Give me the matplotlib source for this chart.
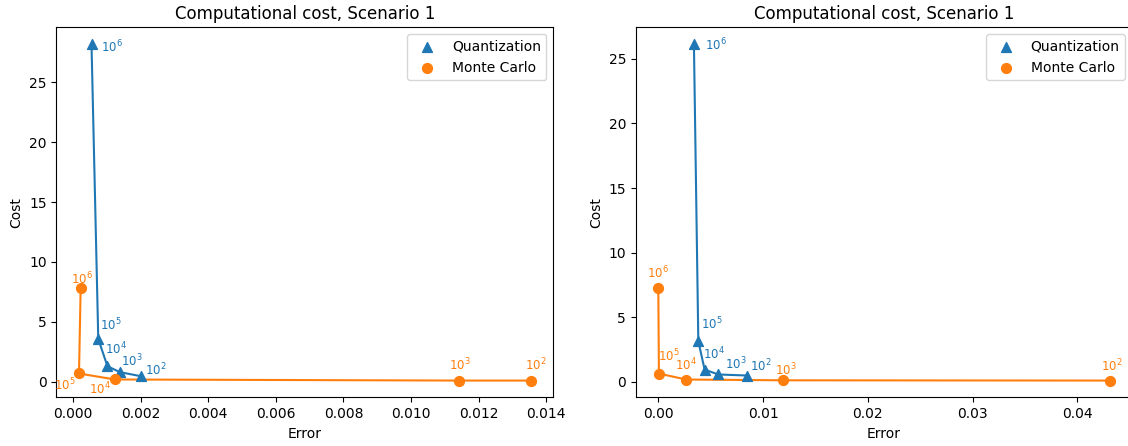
import matplotlib
matplotlib.use("Agg")
import matplotlib.pyplot as plt

exps = [6, 5, 4, 3, 2]

# Scenario panel 1 (left)
q_err_1 = [0.00055, 0.00075, 0.00102, 0.00139, 0.00200]
q_cost_1 = [28.2, 3.58, 1.30, 0.80, 0.47]
mc_err_1 = [0.00023, 0.00018, 0.00124, 0.01143, 0.01354]
mc_cost_1 = [7.87, 0.69, 0.19, 0.10, 0.10]

# Scenario panel 2 (right)
q_err_2 = [0.00340, 0.00382, 0.00442, 0.00573, 0.00849]
q_cost_2 = [26.15, 3.15, 0.95, 0.57, 0.49]
mc_err_2 = [0.00000, 0.00006, 0.00267, 0.01189, 0.04306]
mc_cost_2 = [7.29, 0.64, 0.18, 0.12, 0.10]

# label offsets (points)
q_off_1 = [(14.4, -2), (8.9, 10.3), (6, 12.5), (8.4, 7.9), (11, 4.1)]
mc_off_1 = [(1.2, 6.0), (-10, -8.4), (-10.8, -6.5), (0, 11.5), (3.6, 11.5)]
q_off_2 = [(15.6, -0.7), (9.6, 12), (6.7, 11.3), (12.5, 7.2), (9.6, 6.7)]
mc_off_2 = [(0, 10.3), (7.2, 13), (0, 10.8), (2, 7.7), (1.7, 10.4)]

blue = "#1f77b4"
orange = "#ff7f0e"

fig = plt.figure(figsize=(11.28, 4.46), dpi=100)
ax1 = fig.add_axes([0.0500, 0.109, 0.4406, 0.830])
ax2 = fig.add_axes([0.5636, 0.109, 0.4400, 0.830])

def panel(ax, qe, qc, me, mc, qo, mo):
    ax.plot(qe, qc, color=blue, zorder=2)
    ax.scatter(qe, qc, marker="^", s=50, color=blue, label="Quantization", zorder=3)
    ax.plot(me, mc, color=orange, zorder=2)
    ax.scatter(me, mc, marker="o", s=50, color=orange, label="Monte Carlo", zorder=3)
    for e, x, y, o in zip(exps, qe, qc, qo):
        ax.annotate(f"$10^{{{e}}}$", (x, y), xytext=o, textcoords="offset points",
                    ha="center", va="center", color=blue, fontsize=8.5)
    for e, x, y, o in zip(exps, me, mc, mo):
        ax.annotate(f"$10^{{{e}}}$", (x, y), xytext=o, textcoords="offset points",
                    ha="center", va="center", color=orange, fontsize=8.5)
    ax.set_title("Computational cost, Scenario 1", fontsize=12)
    ax.set_xlabel("Error")
    ax.set_ylabel("Cost")
    ax.legend(loc="upper right")

panel(ax1, q_err_1, q_cost_1, mc_err_1, mc_cost_1, q_off_1, mc_off_1)
panel(ax2, q_err_2, q_cost_2, mc_err_2, mc_cost_2, q_off_2, mc_off_2)

fig.savefig("out.png", dpi=100)
